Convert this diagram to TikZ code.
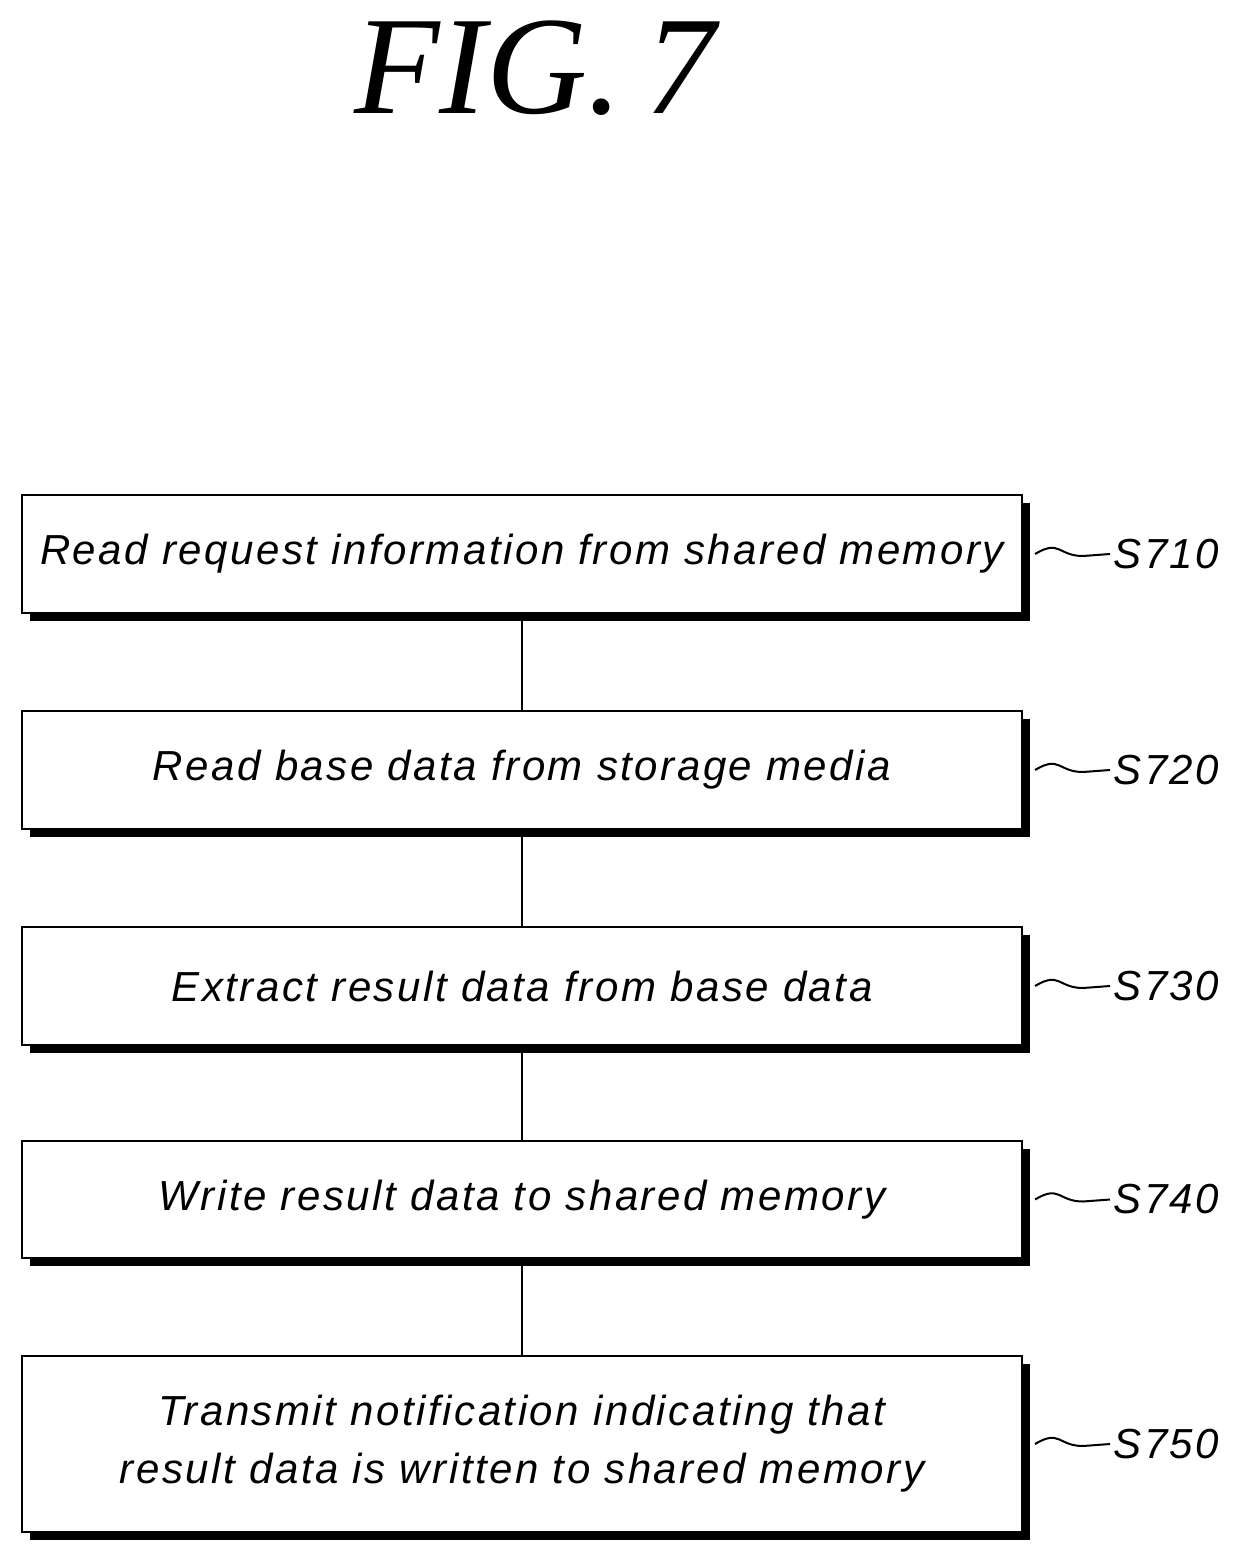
\documentclass[tikz,border=0pt]{standalone}
\usepackage{fontspec}
\setmainfont{Liberation Sans}[LetterSpace=6]
\newfontfamily\titlefont{Liberation Serif}
\begin{document}
\begin{tikzpicture}[x=1pt,y=-1pt,
  box/.style={draw,line width=2pt,fill=white,minimum width=1000pt,inner sep=0pt,align=center,font=\fontsize{42}{58}\selectfont\itshape},
  lab/.style={font=\fontsize{42}{48}\selectfont\itshape,anchor=west},
  conn/.style={line width=1.2pt}]
\useasboundingbox (0,0) rectangle (1235,1566);
\node[font=\titlefont\fontsize{140}{140}\selectfont\itshape] (title) at (535,68) {FIG.\,7};
\foreach \n/\t/\b/\txt/\s in {
 a/495/613/{Read request information from shared memory}/S710,
 b/711/829/{Read base data from storage media}/S720,
 c/927/1045/{Extract result data from base data}/S730,
 d/1141/1258/{Write result data to shared memory}/S740,
 e/1356/1532/{Transmit notification indicating that\\result data is written to shared memory}/S750}{
  \fill (30,\t+8) rectangle (1030,\b+8);
  \node[box,minimum height={\b-\t}] (\n) at (522,{(\t+\b)/2}) {\txt};
  \node[lab] (\n l) at (1110,{(\t+\b)/2}) {\s};
  \draw[line width=2pt] (\n.east) ++(12,0) .. controls +(25,-15) and +(-25,0) .. ++(48,2) -- (\n l.west);
}
\draw[conn] (a.south) -- (b.north);
\draw[conn] (b.south) -- (c.north);
\draw[conn] (c.south) -- (d.north);
\draw[conn] (d.south) -- (e.north);
\end{tikzpicture}
\end{document}
